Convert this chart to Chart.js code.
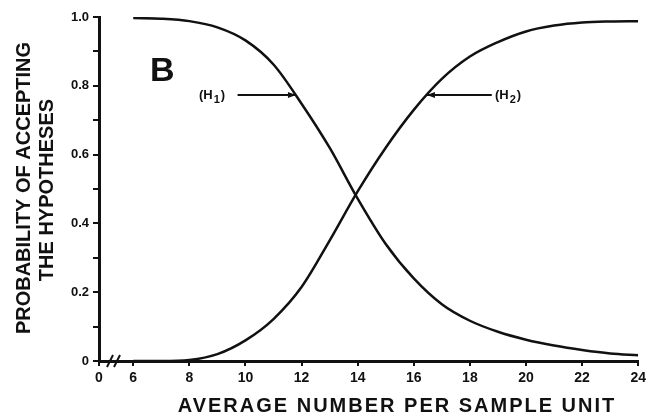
<!DOCTYPE html>
<html>
<head>
<meta charset="utf-8">
<script src="https://cdn.jsdelivr.net/npm/chart.js@4"></script>
<style>
  html, body { margin: 0; padding: 0; background: #fff; }
</style>
</head>
<body>
<canvas id="myChart" width="650" height="418"></canvas>
<script>
let xValues = [6, 7, 8, 9, 10, 11, 12, 13, 14, 15, 16, 17, 18, 19, 20, 21, 22, 23, 24];
let h1Values = [0.997, 0.995, 0.988, 0.97, 0.932, 0.862, 0.748, 0.62, 0.472, 0.34, 0.24, 0.165, 0.117, 0.085, 0.062, 0.045, 0.032, 0.022, 0.017];
let h2Values = [0.0, 0.0, 0.003, 0.02, 0.06, 0.122, 0.215, 0.35, 0.493, 0.62, 0.73, 0.82, 0.885, 0.927, 0.958, 0.975, 0.984, 0.987, 0.988];
// axis is broken: the "0" label sits at the left edge of the axis
let xMin = 4.78;
let xTickPositions = [xMin, 6, 8, 10, 12, 14, 16, 18, 20, 22, 24];
let xTickLabels = ["0", "6", "8", "10", "12", "14", "16", "18", "20", "22", "24"];

let fontFamily = '"Liberation Sans", Arial, sans-serif';

function toPoints(ys) {
    return xValues.map(function (x, i) {
        return { x: x, y: ys[i] };
    });
}

let extras = {
    id: "extras",
    afterDraw: function (chart) {
        let c = chart.ctx;
        let xs = chart.scales.x;
        let ys = chart.scales.y;
        c.save();
        c.fillStyle = "#111";
        c.strokeStyle = "#111";

        // axis titles
        c.font = "bold 20px " + fontFamily;
        c.textAlign = "center";
        c.textBaseline = "middle";
        c.letterSpacing = "2px";
        c.fillText("AVERAGE NUMBER PER SAMPLE UNIT", 397, 406);
        c.letterSpacing = "0px";
        c.save();
        c.translate(24, 188);
        c.rotate(-Math.PI / 2);
        c.fillText("PROBABILITY OF ACCEPTING", 0, 0);
        c.restore();
        c.save();
        c.translate(47, 190);
        c.rotate(-Math.PI / 2);
        c.fillText("THE HYPOTHESES", 0, 0);
        c.restore();

        // panel letter
        c.font = "bold 34px " + fontFamily;
        c.textAlign = "left";
        c.textBaseline = "alphabetic";
        c.fillText("B", 150, 81);

        // hypothesis labels with arrows
        function label(px, py, sub) {
            c.font = "bold 13px " + fontFamily;
            c.textBaseline = "middle";
            c.textAlign = "left";
            let x = px;
            c.fillText("(H", x, py);
            x += c.measureText("(H").width + 1;
            c.font = "bold 11px " + fontFamily;
            c.fillText(sub, x, py + 5);
            x += c.measureText(sub).width + 1;
            c.font = "bold 13px " + fontFamily;
            c.fillText(")", x, py);
        }
        function arrow(x1, x2, y) {
            c.lineWidth = 2;
            c.beginPath();
            c.moveTo(x1, y);
            c.lineTo(x2, y);
            c.stroke();
            let d = x2 > x1 ? -1 : 1;
            c.beginPath();
            c.moveTo(x2, y);
            c.lineTo(x2 + d * 8, y - 3);
            c.lineTo(x2 + d * 8, y + 3);
            c.closePath();
            c.fill();
        }
        let ay = ys.getPixelForValue(0.773);
        label(199, ay, "1");
        arrow(xs.getPixelForValue(9.72), xs.getPixelForValue(11.8), ay);
        label(495, ay, "2");
        arrow(xs.getPixelForValue(18.78), xs.getPixelForValue(16.47), ay);

        // axis break marks
        let by = ys.getPixelForValue(0);
        c.lineWidth = 2;
        [110, 117].forEach(function (bx) {
            c.beginPath();
            c.moveTo(bx - 3, by + 6);
            c.lineTo(bx + 3, by - 6);
            c.stroke();
        });
        c.restore();
    },
};

let ctx = document.getElementById("myChart").getContext("2d");
let lineChart = new Chart(ctx, {
    type: "line",
    data: {
        datasets: [
            {
                label: "H1",
                data: toPoints(h1Values),
                borderColor: "#111",
                borderWidth: 2.5,
                pointRadius: 0,
                cubicInterpolationMode: "monotone",
            },
            {
                label: "H2",
                data: toPoints(h2Values),
                borderColor: "#111",
                borderWidth: 2.5,
                pointRadius: 0,
                cubicInterpolationMode: "monotone",
            },
        ],
    },
    options: {
        responsive: false,
        animation: false,
        layout: { padding: { top: 17, right: 10, left: 0, bottom: 0 } },
        plugins: {
            legend: { display: false },
            tooltip: { enabled: false },
        },
        scales: {
            x: {
                type: "linear",
                min: xMin,
                max: 24,
                afterFit: function (scale) {
                    scale.height = 57;
                },
                afterBuildTicks: function (scale) {
                    scale.ticks = xTickPositions.map(function (v) {
                        return { value: v };
                    });
                },
                border: { display: true, color: "#111", width: 3 },
                grid: {
                    drawOnChartArea: false,
                    drawTicks: true,
                    tickLength: 5,
                    color: "#111",
                    lineWidth: 2,
                },
                ticks: {
                    autoSkip: false,
                    maxRotation: 0,
                    padding: 4,
                    color: "#111",
                    font: { family: fontFamily, size: 14, weight: "bold" },
                    callback: function (value) {
                        let i = xTickPositions.indexOf(value);
                        return i >= 0 ? xTickLabels[i] : "";
                    },
                },
            },
            y: {
                min: 0,
                max: 1,
                afterFit: function (scale) {
                    scale.width = 99;
                },
                border: { display: true, color: "#111", width: 3 },
                grid: {
                    drawOnChartArea: false,
                    drawTicks: true,
                    tickLength: 6,
                    color: "#111",
                    lineWidth: 2,
                },
                ticks: {
                    stepSize: 0.1,
                    padding: 4,
                    color: "#111",
                    font: { family: fontFamily, size: 13, weight: "bold" },
                    callback: function (value) {
                        let t = Math.round(value * 10);
                        if (t === 0) return "0";
                        if (t % 2 !== 0) return "";
                        return (t / 10).toFixed(1);
                    },
                },
            },
        },
    },
    plugins: [extras],
});
</script>
</body>
</html>
